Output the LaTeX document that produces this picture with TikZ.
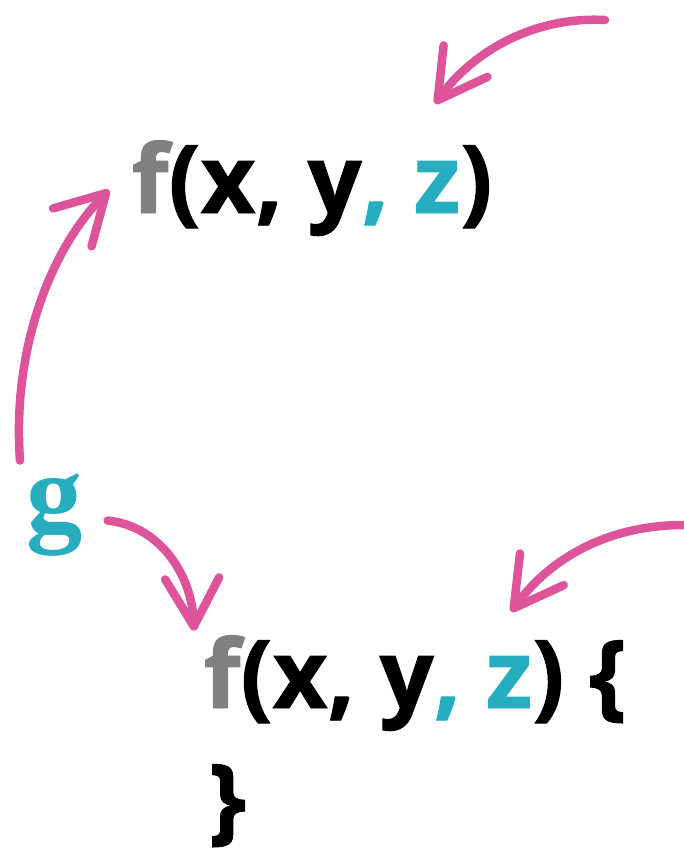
\documentclass[tikz,border=0pt]{standalone}
\usepackage{fontspec}
\setmainfont{Open Sans}[BoldFeatures={FakeBold=1}]
\newfontfamily\gfont{Liberation Serif}
\usepackage{xcolor}
\usetikzlibrary{arrows.meta}

\definecolor{fgray}{RGB}{128,128,128}
\definecolor{argteal}{RGB}{38,174,192}
\definecolor{arrpink}{RGB}{222,84,154}

\begin{document}
\begin{tikzpicture}[
  x=0.01cm, y=-0.01cm,
  code/.style={inner sep=0pt, anchor=base west, font=\fontsize{27pt}{32pt}\selectfont\bfseries},
  gname/.style={inner sep=0pt, anchor=base west, text=argteal, font=\fontsize{32pt}{38pt}\selectfont\gfont\bfseries},
  arr/.style={draw=arrpink, line width=0.85mm, line cap=round, -{Straight Barb[length=4.8mm, width=5.4mm, line cap=round, line join=round]}},
]
\useasboundingbox (0,0) rectangle (684,850);

\node[code] (ftop) at (131,213) {{\color{fgray}f}(x, y{\color{argteal}, z})};
\node[code] (fbot) at (203,708) {{\color{fgray}f}(x, y{\color{argteal}, z}) \{};
\node[code] (close) at (208,832) {\}};
\node[gname] (g) at (26,531) {g};

% free ends of the incoming arrows
\coordinate (ztop) at (605,20);
\coordinate (zbot) at (684,525);

% arrows into the upper f
\draw[arr] (ztop) .. controls (530,16) and (470,55) .. ([shift={(-58,-36)}]ftop.north east);
\draw[arr] ([shift={(-6,-12)}]g.north west) .. controls (12,350) and (50,250) .. ([shift={(-22,2)}]ftop.west);

% arrows into the lower f
\draw[arr] ([shift={(24,6)}]g.east) .. controls (160,526) and (192,575) .. ([shift={(-9,-4)}]fbot.north west);
\draw[arr] (zbot) .. controls (600,525) and (545,565) .. ([shift={(-116,-23)}]fbot.north east);

\end{tikzpicture}
\end{document}
